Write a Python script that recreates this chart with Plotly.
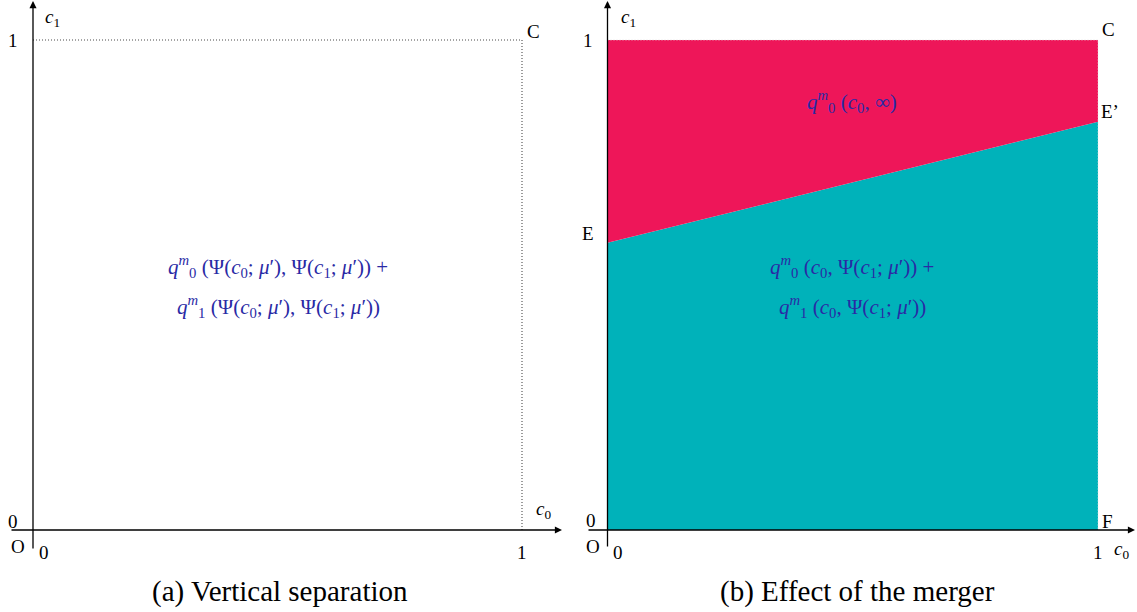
import plotly.graph_objects as go

# ---- data ----
E_c1 = 0.586        # boundary at c0 = 0 (point E)
Eprime_c1 = 0.833   # boundary at c0 = 1 (point E')
region_b_low_c0 = [0, 1, 1, 0]
region_b_low_c1 = [0, 0, Eprime_c1, E_c1]
region_b_high_c0 = [0, 1, 1, 0]
region_b_high_c1 = [E_c1, Eprime_c1, 1, 1]
box_c0 = [0, 1, 1]
box_c1 = [1, 1, 0]
tick_vals = [0, 1]
captions = ["(a) Vertical separation", "(b) Effect of the merger"]

RED = "#EE1659"
TEAL = "#00B2BA"
NAVY = "#2A2AA5"
FONT = "Liberation Serif"

W, H = 1137, 612
LX0, LX1 = 33, 522
RX0, RX1 = 607.5, 1098
Y0, Y1 = 530, 40
ux_l = LX1 - LX0
ux_r = RX1 - RX0
uy = Y0 - Y1

def xr(px0, ux, p_lo, p_hi):
    return [(p_lo - px0) / ux, (p_hi - px0) / ux]

yrange = [(Y0 - H) / uy, (Y0 - 0) / uy]

fig = go.Figure()

fig.add_trace(go.Scatter(x=region_b_low_c0, y=region_b_low_c1, fill="toself",
                         fillcolor=TEAL, line=dict(width=0, color=TEAL),
                         mode="lines", xaxis="x2", yaxis="y2", hoverinfo="skip"))
fig.add_trace(go.Scatter(x=region_b_high_c0, y=region_b_high_c1, fill="toself",
                         fillcolor=RED, line=dict(width=0, color=RED),
                         mode="lines", xaxis="x2", yaxis="y2", hoverinfo="skip"))

fig.add_trace(go.Scatter(x=box_c0, y=box_c1, mode="lines",
                         line=dict(color="#4a4a4a", width=1.1, dash="1px,2px"),
                         xaxis="x", yaxis="y", hoverinfo="skip"))
fig.add_trace(go.Scatter(x=box_c0, y=box_c1, mode="lines",
                         line=dict(color="rgba(225,225,225,0.9)", width=1, dash="1px,2px"),
                         xaxis="x2", yaxis="y2", hoverinfo="skip"))

ax_common = dict(visible=False, fixedrange=True)
fig.update_layout(
    width=W, height=H, margin=dict(l=0, r=0, t=0, b=0),
    paper_bgcolor="white", plot_bgcolor="rgba(0,0,0,0)",
    showlegend=False,
    xaxis=dict(domain=[0, 0.5], range=xr(LX0, ux_l, 0, W / 2), **ax_common),
    yaxis=dict(domain=[0, 1], range=yrange, **ax_common),
    xaxis2=dict(domain=[0.5, 1], range=xr(RX0, ux_r, W / 2, W), **ax_common),
    yaxis2=dict(domain=[0, 1], range=yrange, anchor="x2", **ax_common),
    font=dict(family=FONT, color="black", size=19),
)

ann = []

def arrow(xref, yref, x, y, ax, ay):
    ann.append(dict(x=x, y=y, ax=ax, ay=ay, xref=xref, yref=yref,
                    axref=xref, ayref=yref, showarrow=True, arrowhead=2,
                    arrowsize=1.1, arrowwidth=1.3, arrowcolor="black", text=""))

def label(xref, yref, x, y, text, size=19, color="black", xanchor="center"):
    ann.append(dict(x=x, y=y, xref=xref, yref=yref, text=text, showarrow=False,
                    font=dict(size=size, color=color, family=FONT),
                    xanchor=xanchor, yanchor="middle"))

def px2x(px, x0, ux):
    return (px - x0) / ux

def py2y(py):
    return (Y0 - py) / uy

arrow("x", "y", px2x(562, LX0, ux_l), 0, px2x(10, LX0, ux_l), 0)
arrow("x", "y", 0, py2y(1), 0, py2y(550))
arrow("x2", "y2", px2x(1135, RX0, ux_r), 0, px2x(587, RX0, ux_r), 0)
arrow("x2", "y2", 0, py2y(1), 0, py2y(548))

c1 = "<i>c</i><sub>1</sub>"
c0 = "<i>c</i><sub>0</sub>"

label("x", "y", px2x(13, LX0, ux_l), tick_vals[1], "1")
label("x", "y", px2x(13, LX0, ux_l), py2y(521), "0")
label("x", "y", px2x(18, LX0, ux_l), py2y(546), "O")
label("x", "y", px2x(44, LX0, ux_l), py2y(552), "0")
label("x", "y", tick_vals[1], py2y(552), "1")
label("x", "y", px2x(52, LX0, ux_l), py2y(18), c1)
label("x", "y", px2x(543, LX0, ux_l), py2y(510), c0)
label("x", "y", px2x(533, LX0, ux_l), py2y(31), "C")

mu = "<i>μ</i>′"
MS = 21
lineA1 = ("<i>q</i><sup><i>m</i></sup><sub>0</sub> (Ψ(" + c0 + "; " + mu + "), Ψ(" + c1 + "; " + mu + ")) +")
lineA2 = ("<i>q</i><sup><i>m</i></sup><sub>1</sub> (Ψ(" + c0 + "; " + mu + "), Ψ(" + c1 + "; " + mu + "))")
label("x", "y", px2x(278, LX0, ux_l), py2y(266), lineA1, size=MS, color=NAVY)
label("x", "y", px2x(278, LX0, ux_l), py2y(306), lineA2, size=MS, color=NAVY)

label("x2", "y2", px2x(588, RX0, ux_r), tick_vals[1], "1")
label("x2", "y2", px2x(591, RX0, ux_r), py2y(520), "0")
label("x2", "y2", px2x(593, RX0, ux_r), py2y(546), "O")
label("x2", "y2", px2x(618, RX0, ux_r), py2y(552), "0")
label("x2", "y2", tick_vals[1], py2y(552), "1")
label("x2", "y2", px2x(1121, RX0, ux_r), py2y(550), c0)
label("x2", "y2", px2x(628, RX0, ux_r), py2y(18), c1)
label("x2", "y2", px2x(1108, RX0, ux_r), py2y(29), "C")
label("x2", "y2", px2x(1099, RX0, ux_r), py2y(111), "E’", xanchor="left")
label("x2", "y2", px2x(588, RX0, ux_r), E_c1 + 0.02, "E")
label("x2", "y2", px2x(1107, RX0, ux_r), py2y(521), "F")

lineB0 = "<i>q</i><sup><i>m</i></sup><sub>0</sub> (" + c0 + ", ∞)"
lineB1 = "<i>q</i><sup><i>m</i></sup><sub>0</sub> (" + c0 + ", Ψ(" + c1 + "; " + mu + ")) +"
lineB2 = "<i>q</i><sup><i>m</i></sup><sub>1</sub> (" + c0 + ", Ψ(" + c1 + "; " + mu + "))"
label("x2", "y2", px2x(852, RX0, ux_r), py2y(101), lineB0, size=MS, color=NAVY)
label("x2", "y2", px2x(852, RX0, ux_r), py2y(266), lineB1, size=MS, color=NAVY)
label("x2", "y2", px2x(852, RX0, ux_r), py2y(306), lineB2, size=MS, color=NAVY)

CS = 29
ann.append(dict(x=280 / W, y=1 - 591 / H, xref="paper", yref="paper", text=captions[0],
                showarrow=False, font=dict(size=CS, family=FONT, color="black"),
                xanchor="center", yanchor="middle"))
ann.append(dict(x=857 / W, y=1 - 591 / H, xref="paper", yref="paper", text=captions[1],
                showarrow=False, font=dict(size=CS, family=FONT, color="black"),
                xanchor="center", yanchor="middle"))

fig.update_layout(annotations=ann)
fig.write_html("out.html")
